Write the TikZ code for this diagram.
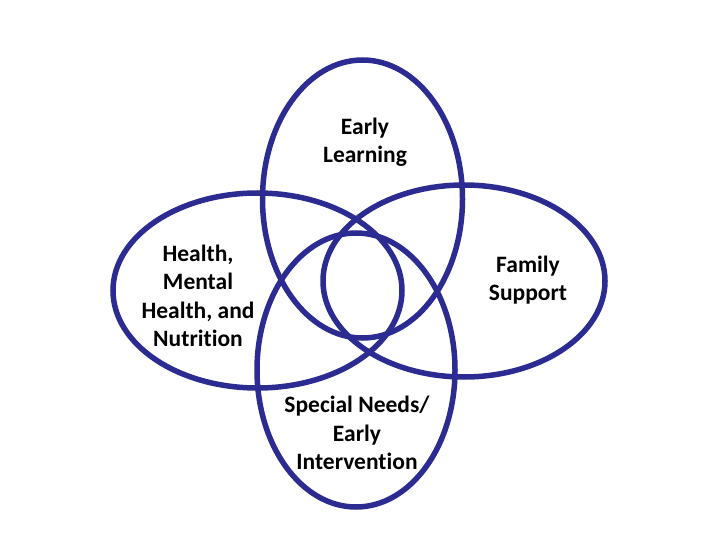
\documentclass[tikz,border=0pt]{standalone}
\usepackage{fontspec}
\setmainfont{Carlito}[RawFeature=-liga]
\definecolor{ringblue}{HTML}{2B2B92}
\tikzset{ring/.style={draw=ringblue,line width=5.5pt},
lbl/.style={font=\fontsize{23.5}{28.5}\selectfont\bfseries,align=center,text=black}}
\begin{document}
\begin{tikzpicture}[x=1pt,y=-1pt]
\useasboundingbox (0,0) rectangle (720,540);
\draw[ring] (362.5,199) ellipse [x radius=100,y radius=139];
\draw[ring] (257.5,290.5) ellipse [x radius=144.5,y radius=97.5];
\draw[ring] (464,281) ellipse [x radius=141,y radius=96];
\draw[ring] (356,370) ellipse [x radius=99,y radius=137];
\node[lbl] (el) at (365,142) {Early\\Learning};
\node[lbl] (he) at (198,296) {Health,\\Mental\\Health, and\\Nutrition};
\node[lbl] (fs) at (528,280) {Family\\Support};
\node[lbl] (sn) at (357,433) {Special Needs/\\Early\\Intervention};
\end{tikzpicture}
\end{document}
